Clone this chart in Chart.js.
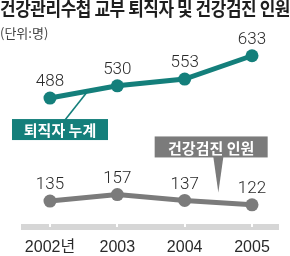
<!DOCTYPE html>
<html>
<head>
<meta charset="utf-8">
<script src="https://cdn.jsdelivr.net/npm/chart.js@4"></script>
<style>
  html, body { margin:0; padding:0; background:#fff; }
  #wrap { position:relative; width:290px; height:256px; overflow:hidden; }
  canvas { position:absolute; left:0; top:0; }
  #title { position:absolute; left:0; top:-2px; font-family:'Noto Sans CJK KR'; font-weight:700; font-size:19px; line-height:1.1; color:#1e1e1e; white-space:nowrap; transform-origin:0 0; letter-spacing:-0.5px; }
  #unit { position:absolute; left:0; top:25px; font-family:'Noto Sans CJK KR'; font-size:13px; line-height:1.2; color:#444; white-space:nowrap; }
</style>
</head>
<body>
<div id="wrap">
  <canvas id="c" width="290" height="256"></canvas>
  <div id="title">건강관리수첩 교부 퇴직자 및 건강검진 인원</div>
  <div id="unit">(단위:명)</div>
</div>
<script>
// ---- data ----
const years = ['2002년', '2003', '2004', '2005'];
const retirees = [488, 530, 553, 633];     // 퇴직자 누계
const checkups = [135, 157, 137, 122];     // 건강검진 인원
const seriesNames = ['퇴직자 누계', '건강검진 인원'];

// fit title width
const t = document.getElementById('title');
const tw = t.getBoundingClientRect().width;
t.style.transform = 'scaleX(' + (290 / tw) + ')';

const TEAL = '#147f7b';
const GRAY = '#7b7b7b';
const numFont = '300 17px Roboto, "Liberation Sans", sans-serif';

const decor = {
  id: 'decor',
  afterDatasetsDraw(chart) {
    const ctx = chart.ctx;
    const xs = chart.scales.x;
    const area = chart.chartArea;
    // notches in the base band
    ctx.save();
    ctx.fillStyle = '#fff';
    years.forEach((_, i) => {
      const px = xs.getPixelForValue(i);
      ctx.fillRect(Math.round(px) - 1, area.bottom - 3, 2, 3);
    });
    ctx.restore();

    // value labels
    ctx.save();
    ctx.font = numFont;
    ctx.fillStyle = '#2a2a2a';
    ctx.textAlign = 'center';
    ctx.textBaseline = 'middle';
    chart.data.datasets.forEach((ds, di) => {
      const meta = chart.getDatasetMeta(di);
      meta.data.forEach((pt, i) => {
        ctx.fillText(String(ds.data[i].y), pt.x, pt.y - 16);
      });
    });
    ctx.restore();

    // callout: 퇴직자 누계
    const m0 = chart.getDatasetMeta(0).data;
    const ax = m0[0].x + (m0[1].x - m0[0].x) * 0.56;
    const ay = m0[0].y + (m0[1].y - m0[0].y) * 0.56;
    const bx = m0[0].x - 38, by = m0[0].y + 21, bw = 96, bh = 21;
    ctx.save();
    ctx.strokeStyle = TEAL; ctx.lineWidth = 1.6;
    ctx.beginPath(); ctx.moveTo(ax, ay); ctx.lineTo(bx + 53, by + 1); ctx.stroke();
    ctx.fillStyle = TEAL;
    ctx.fillRect(bx, by, bw, bh);
    ctx.fillStyle = '#fff';
    ctx.font = 'bold 15px "Noto Sans CJK KR"';
    ctx.textAlign = 'center'; ctx.textBaseline = 'middle';
    ctx.fillText(seriesNames[0], bx + bw / 2, by + bh / 2 + 1);
    ctx.restore();

    // callout: 건강검진 인원
    const m1 = chart.getDatasetMeta(1).data;
    const tx = m1[2].x + (m1[3].x - m1[2].x) * 0.5;
    const ty = m1[2].y - 8;
    const gx = m1[2].x - 30, gy = m1[2].y - 64, gw = 113, gh = 21;
    ctx.save();
    ctx.fillStyle = GRAY;
    ctx.fillRect(gx, gy, gw, gh);
    ctx.beginPath();
    ctx.moveTo(tx - 5, gy + gh - 0.5); ctx.lineTo(tx + 5, gy + gh - 0.5); ctx.lineTo(tx, ty); ctx.closePath();
    ctx.fill();
    ctx.fillStyle = '#fff';
    ctx.font = 'bold 15px "Noto Sans CJK KR"';
    ctx.textAlign = 'center'; ctx.textBaseline = 'middle';
    ctx.fillText(seriesNames[1], gx + gw / 2, gy + gh / 2 + 1);
    ctx.restore();
  }
};

new Chart(document.getElementById('c'), {
  type: 'line',
  data: {
    datasets: [
      { label: seriesNames[0], data: retirees.map((v, i) => ({ x: i, y: v })),
        borderColor: TEAL, backgroundColor: TEAL, borderWidth: 5,
        pointRadius: 6.5, pointHoverRadius: 6.5, pointBorderWidth: 0, tension: 0 },
      { label: seriesNames[1], data: checkups.map((v, i) => ({ x: i, y: v })),
        borderColor: GRAY, backgroundColor: GRAY, borderWidth: 5,
        pointRadius: 6.5, pointHoverRadius: 6.5, pointBorderWidth: 0, tension: 0 }
    ]
  },
  options: {
    responsive: false,
    animation: false,
    events: [],
    layout: { padding: { left: 24, right: 12, top: 40, bottom: 0 } },
    plugins: { legend: { display: false }, tooltip: { enabled: false }, title: { display: false } },
    scales: {
      x: {
        type: 'linear',
        min: -0.386, max: 3.386,
        afterBuildTicks(s) { s.ticks = years.map((_, i) => ({ value: i })); },
        afterFit(s) { s.height = 29; },
        grid: { display: false, drawTicks: false },
        border: { display: true, color: '#d6d6d6', width: 6 },
        ticks: {
          callback: (v) => years[v],
          font: { family: '"Liberation Sans", "Noto Sans CJK KR", sans-serif', size: 16 },
          color: '#2a2a2a', padding: 11, maxRotation: 0, autoSkip: false
        }
      },
      y: { display: false, min: 46, max: 687 }
    }
  },
  plugins: [decor]
});
</script>
</body>
</html>
